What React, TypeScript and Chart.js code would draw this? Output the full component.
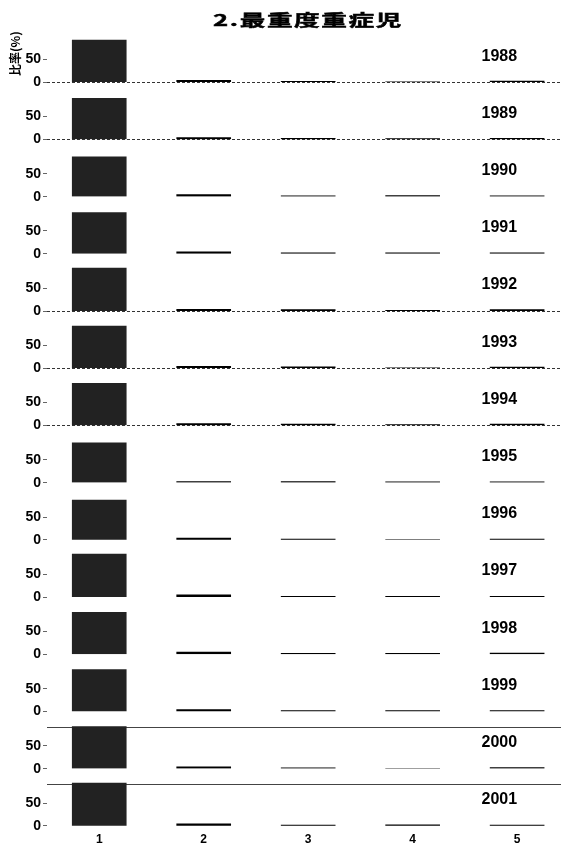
import React, { useEffect, useRef } from 'react';
import { Chart, registerables } from 'chart.js';

Chart.register(...registerables);

// ---- data ----
const chartTitle = '2.最重度重症児';
const yAxisTitle = '比率(%)';
const years = ['1988', '1989', '1990', '1991', '1992', '1993', '1994', '1995', '1996', '1997', '1998', '1999', '2000', '2001'];
const categories = [1, 2, 3, 4, 5];
const categoryLabels = ['1', '2', '3', '4', '5'];
const cat1 = [92, 90, 87, 90, 94, 92, 92, 87, 87, 94, 92, 92, 92, 94];
const cat2 = [4, 4, 4.5, 4.5, 4, 4.5, 4, 2.5, 4, 5, 5, 4.5, 4, 4.5];
const cat3 = [2, 2.5, 2, 2, 3, 3, 3, 2.5, 2, 2, 2.5, 2, 2, 2];
const cat4 = [0.5, 2, 2.5, 2, 1.5, 1, 2, 2, 0, 2, 2, 2, 0, 2.5];
const cat5 = [2.5, 2.5, 2, 2.5, 3, 2.5, 3, 2, 2, 2, 3, 2, 2.5, 2];
const yTickValues = [0, 50];
const yMax = 125;
const dottedBaselineYears = ['1988', '1989', '1992', '1993', '1994'];
const separatorYears = ['2000', '2001'];
const separatorValue = 90;

const series = [cat1, cat2, cat3, cat4, cat5];

const W = 563;
const H = 845;
const AXIS_W = 47;
const X_AXIS_H = 19;
const TOP_PAD = 25;
const YEAR_LABEL_X = 4.83;
const YEAR_LABEL_Y = 57;

const tickFont = { family: '"Liberation Sans", Arial, sans-serif', size: 14, weight: 'bold' as const };

const yearLabelPlugin = {
  id: 'yearLabels',
  afterDatasetsDraw(chart: any) {
    const ctx = chart.ctx;
    const xs = chart.scales.x;
    ctx.save();
    ctx.font = 'bold 16px "Liberation Sans", Arial, sans-serif';
    ctx.fillStyle = '#000';
    ctx.textAlign = 'center';
    ctx.textBaseline = 'middle';
    years.forEach((yr, i) => {
      const ys = chart.scales['y' + i];
      ctx.fillText(yr, xs.getPixelForValue(YEAR_LABEL_X), ys.getPixelForValue(YEAR_LABEL_Y));
    });
    ctx.restore();
  },
};

function buildScales() {
  const scales: any = {
    x: {
      type: 'linear',
      position: 'bottom',
      offset: false,
      min: 0.5,
      max: 5.42,
      grid: { display: false, drawTicks: false },
      border: { display: false },
      afterBuildTicks: (axis: any) => {
        axis.ticks = categories.map((v) => ({ value: v }));
      },
      afterFit: (s: any) => {
        s.height = X_AXIS_H;
      },
      ticks: {
        autoSkip: false,
        maxRotation: 0,
        padding: 6,
        color: '#000',
        font: { family: '"Liberation Sans", Arial, sans-serif', size: 12, weight: 'bold' },
        callback: (v: number) => {
          const k = categories.indexOf(v);
          return k >= 0 ? categoryLabels[k] : '';
        },
      },
    },
  };
  years.forEach((yr, i) => {
    const dotted = dottedBaselineYears.includes(yr);
    const sep = separatorYears.includes(yr);
    scales['y' + i] = {
      type: 'linear',
      position: 'left',
      stack: 'panels',
      stackWeight: 1,
      weight: years.length - i,
      offset: false,
      min: 0,
      max: yMax,
      afterBuildTicks: (axis: any) => {
        const vals = sep ? [...yTickValues, separatorValue] : yTickValues;
        axis.ticks = vals.map((v) => ({ value: v }));
      },
      afterFit: (s: any) => {
        s.width = AXIS_W;
      },
      ticks: {
        autoSkip: false,
        padding: 2,
        color: '#000',
        font: tickFont,
        callback: (v: number) => (yTickValues.includes(v) ? String(v) : ''),
      },
      grid: {
        drawOnChartArea: true,
        drawTicks: true,
        tickLength: 4,
        lineWidth: 1,
        tickColor: (c: any) => (c.tick && yTickValues.includes(c.tick.value) ? '#666' : 'rgba(0,0,0,0)'),
        color: (c: any) => {
          if (!c.tick) return 'rgba(0,0,0,0)';
          if (c.tick.value === 0 && dotted) return '#333';
          if (c.tick.value === separatorValue && sep) return '#444';
          return 'rgba(0,0,0,0)';
        },
      },
      border: { display: false, dash: dotted ? [3, 2] : [] },
      title:
        i === 0
          ? {
              display: true,
              text: yAxisTitle,
              color: '#000',
              font: { family: '"Noto Sans CJK JP", sans-serif', size: 12, weight: 'bold', lineHeight: 1.2 },
              padding: { top: 8, bottom: 0 },
            }
          : { display: false },
    };
  });
  return scales;
}

export default function App() {
  const ref = useRef<HTMLCanvasElement>(null);
  useEffect(() => {
    if (!ref.current) return;
    const chart = new Chart(ref.current, {
      type: 'bar',
      data: {
        datasets: years.map((yr, i) => ({
          label: yr,
          data: categories.map((c, j) => ({ x: c, y: series[j][i] })),
          yAxisID: 'y' + i,
          xAxisID: 'x',
          grouped: false,
          barThickness: 54,
          borderWidth: 0,
          backgroundColor: categories.map((_, j) => (j === 0 ? '#222' : '#000')),
        })),
      } as any,
      options: {
        animation: false,
        responsive: false,
        devicePixelRatio: 1,
        layout: { padding: { top: TOP_PAD, right: 2, left: 0, bottom: 0 } },
        plugins: {
          legend: { display: false },
          tooltip: { enabled: false },
          title: { display: false },
        },
        scales: buildScales(),
      } as any,
      plugins: [yearLabelPlugin],
    });
    return () => chart.destroy();
  }, []);

  return (
    <div style={{ position: 'absolute', left: 0, top: 0, width: W, height: H, background: '#fff', overflow: 'hidden' }}>
      <canvas ref={ref} width={W} height={H} style={{ position: 'absolute', left: 0, top: 0 }} />
      <div
        style={{
          position: 'absolute',
          left: 308,
          top: 11,
          fontFamily: '"Noto Sans CJK JP", sans-serif',
          fontWeight: 'bold',
          fontSize: 16,
          lineHeight: '16px',
          letterSpacing: 1,
          whiteSpace: 'nowrap',
          color: '#000',
          WebkitTextStroke: '0.5px #000',
          transform: 'translateX(-50%) scaleX(1.6)',
        }}
      >
        {chartTitle}
      </div>
    </div>
  );
}
